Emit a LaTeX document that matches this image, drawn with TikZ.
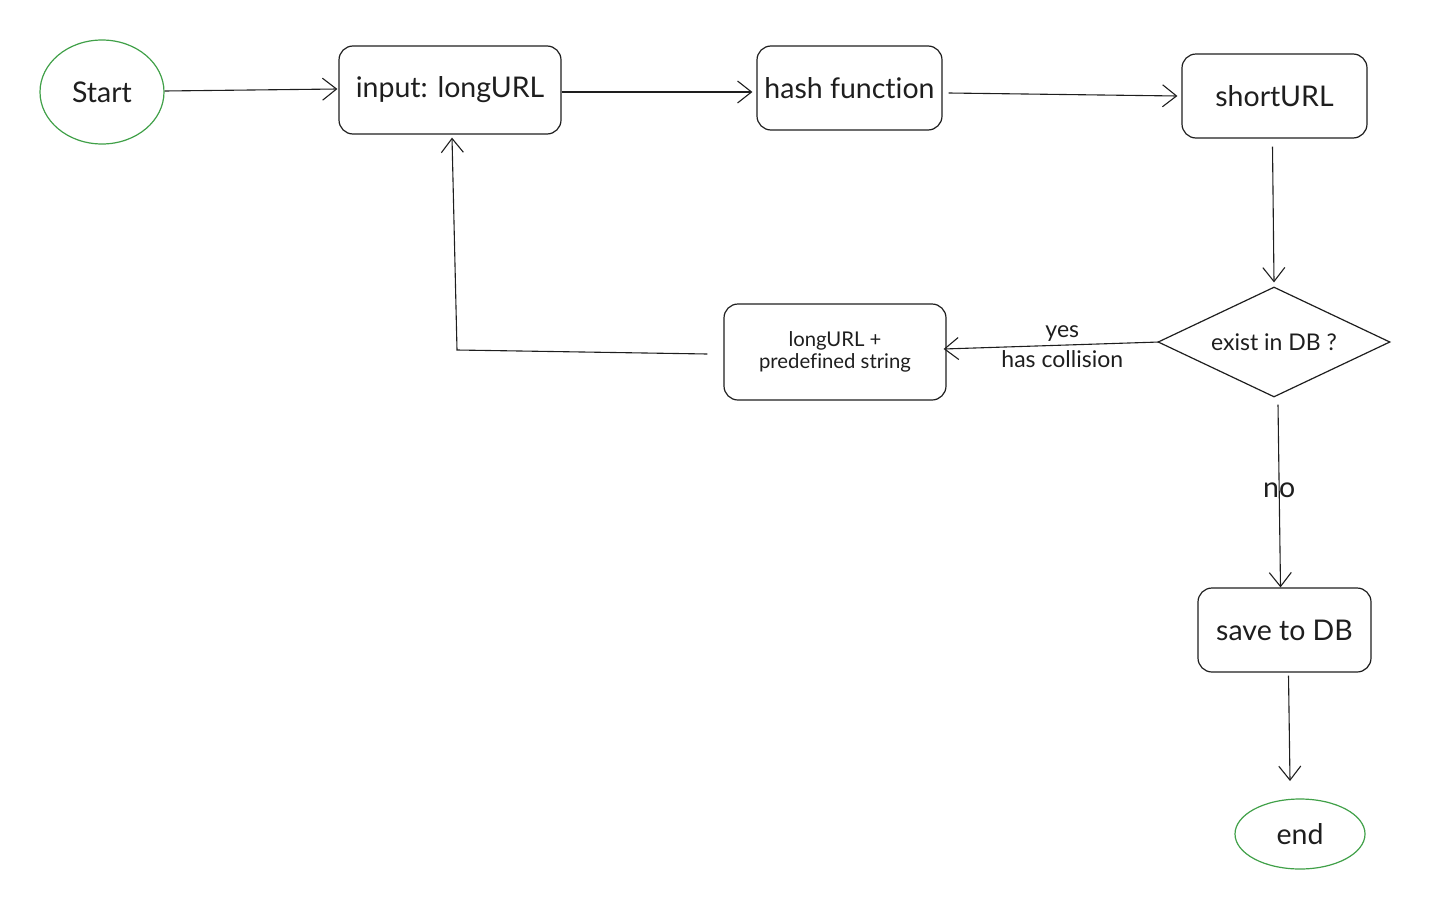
\documentclass[tikz,border=0pt]{standalone}
\usepackage{fontspec}
\setmainfont{Lato}[Ligatures={NoCommon,NoDiscretionary,NoRare}]
\usetikzlibrary{arrows.meta,shapes.geometric}
\definecolor{ink}{HTML}{1E1E1E}
\definecolor{grn}{HTML}{40A048}
\tikzset{
  every node/.style={text=ink},
  box/.style={draw=ink, line width=1.2pt, rounded corners=14pt, inner sep=0pt},
  term/.style={ellipse, draw=grn, line width=1.2pt, inner sep=0pt},
  dec/.style={diamond, draw=ink, line width=1.2pt, inner sep=0pt, aspect=2.1},
  conn/.style={draw=ink, line width=1.1pt, -{Straight Barb[length=14pt,width=22pt,line width=1.1pt]}},
  big/.style={font=\fontsize{28.5}{32}\selectfont},
  mid/.style={font=\fontsize{23}{28}\selectfont},
  small/.style={font=\fontsize{20.3}{24}\selectfont, align=center},
}
\begin{document}
\begin{tikzpicture}[x=1pt,y=-1pt]
\useasboundingbox (0,0) rectangle (1442,910);
% nodes
\node[term, big, minimum width=124pt, minimum height=104pt] (start) at (102,92) {Start};
\node[box, big, minimum width=222pt, minimum height=88pt] (input) at (450,90) {input: longURL};
\node[box, big, minimum width=185pt, minimum height=84pt] (hash) at (849.5,88) {hash function};
\node[box, big, minimum width=185pt, minimum height=84pt] (short) at (1274.5,96) {shortURL};
\node[dec, mid, minimum width=232pt, minimum height=110pt] (db) at (1274,342) {exist in DB ?};
\node[box, small, minimum width=222pt, minimum height=96pt] (pre) at (835,352) {longURL +\\[-2pt]predefined string};
\node[box, big, minimum width=173pt, minimum height=84pt] (save) at (1284.5,630) {save to DB};
\node[term, big, minimum width=130pt, minimum height=70pt] (end) at (1300,834) {end};
% connectors
\coordinate (bend) at (457,350);
\coordinate (endtip) at (1290,781);
\draw[conn] ([yshift=1pt]start.east) -- ([xshift=-1pt,yshift=1pt]input.west);
\draw[conn] ([yshift=-2pt]input.east) -- ([xshift=-4pt,yshift=-4pt]hash.west);
\draw[conn] ([xshift=6pt,yshift=-5pt]hash.east) -- ([xshift=-4pt]short.west);
\draw[conn] ([xshift=-2pt,yshift=-8pt]short.south) -- ([yshift=4pt]db.north);
\draw[conn] ([xshift=2pt]db.west) -- node[pos=0.45, above=0pt, mid]{yes} node[pos=0.45, below=2pt, mid]{has collision} ([xshift=-3pt,yshift=3pt]pre.east);
\draw[conn] ([xshift=-16pt,yshift=-2pt]pre.west) -- (bend) -- ([xshift=2pt,yshift=-3pt]input.south);
\draw[conn] ([xshift=4pt,yshift=-7pt]db.south) -- node[pos=0.47, big]{no} ([xshift=-4pt]save.north);
\draw[conn] ([xshift=4pt,yshift=-3pt]save.south) -- (endtip);
\end{tikzpicture}
\end{document}
